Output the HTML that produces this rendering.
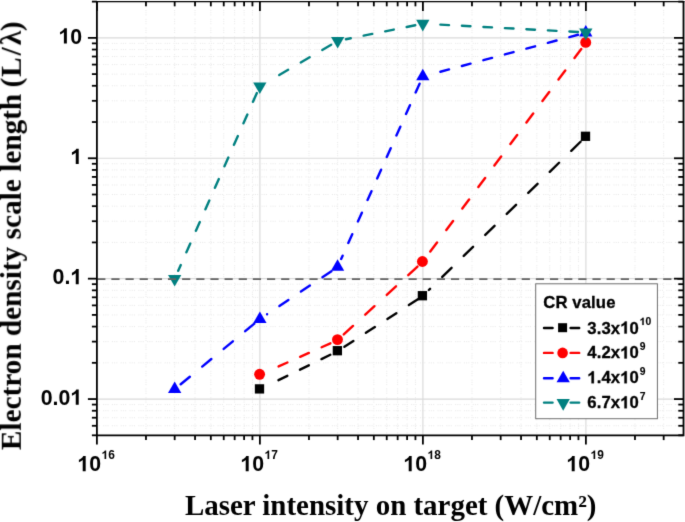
<!DOCTYPE html>
<html><head><meta charset="utf-8"><title>chart</title>
<style>
html,body{margin:0;padding:0;background:#fff;}
body{width:685px;height:522px;overflow:hidden;font-family:"Liberation Sans",sans-serif;}
svg{display:block;will-change:transform;}
</style></head><body>
<svg width="685" height="522" viewBox="0 0 685 522">
<rect x="0" y="0" width="685" height="522" fill="#ffffff"/>
<defs><filter id="soft" x="0" y="0" width="100%" height="100%" filterUnits="userSpaceOnUse" color-interpolation-filters="sRGB"><feConvolveMatrix order="3" kernelMatrix="0.01134 0.08382 0.01134 0.08382 0.61935 0.08382 0.01134 0.08382 0.01134" edgeMode="duplicate" preserveAlpha="false"/></filter></defs>
<g filter="url(#soft)">
<rect x="-5" y="-5" width="695" height="532" fill="#ffffff"/>
<g stroke="#cccccc" stroke-width="1" stroke-dasharray="1.1 1.1 1.1 1.1 1.1 3.3" opacity="0.42" fill="none">
<line x1="145.97" y1="1.16" x2="145.97" y2="434.40"/>
<line x1="174.67" y1="1.16" x2="174.67" y2="434.40"/>
<line x1="195.04" y1="1.16" x2="195.04" y2="434.40"/>
<line x1="210.83" y1="1.16" x2="210.83" y2="434.40"/>
<line x1="223.74" y1="1.16" x2="223.74" y2="434.40"/>
<line x1="234.65" y1="1.16" x2="234.65" y2="434.40"/>
<line x1="244.10" y1="1.16" x2="244.10" y2="434.40"/>
<line x1="252.44" y1="1.16" x2="252.44" y2="434.40"/>
<line x1="308.97" y1="1.16" x2="308.97" y2="434.40"/>
<line x1="337.67" y1="1.16" x2="337.67" y2="434.40"/>
<line x1="358.04" y1="1.16" x2="358.04" y2="434.40"/>
<line x1="373.83" y1="1.16" x2="373.83" y2="434.40"/>
<line x1="386.74" y1="1.16" x2="386.74" y2="434.40"/>
<line x1="397.65" y1="1.16" x2="397.65" y2="434.40"/>
<line x1="407.10" y1="1.16" x2="407.10" y2="434.40"/>
<line x1="415.44" y1="1.16" x2="415.44" y2="434.40"/>
<line x1="471.97" y1="1.16" x2="471.97" y2="434.40"/>
<line x1="500.67" y1="1.16" x2="500.67" y2="434.40"/>
<line x1="521.04" y1="1.16" x2="521.04" y2="434.40"/>
<line x1="536.83" y1="1.16" x2="536.83" y2="434.40"/>
<line x1="549.74" y1="1.16" x2="549.74" y2="434.40"/>
<line x1="560.65" y1="1.16" x2="560.65" y2="434.40"/>
<line x1="570.10" y1="1.16" x2="570.10" y2="434.40"/>
<line x1="578.44" y1="1.16" x2="578.44" y2="434.40"/>
<line x1="634.97" y1="1.16" x2="634.97" y2="434.40"/>
<line x1="663.67" y1="1.16" x2="663.67" y2="434.40"/>
<line x1="94.3" y1="425.78" x2="682.50" y2="425.78"/>
<line x1="94.3" y1="417.72" x2="682.50" y2="417.72"/>
<line x1="94.3" y1="410.74" x2="682.50" y2="410.74"/>
<line x1="94.3" y1="404.58" x2="682.50" y2="404.58"/>
<line x1="94.3" y1="362.83" x2="682.50" y2="362.83"/>
<line x1="94.3" y1="341.62" x2="682.50" y2="341.62"/>
<line x1="94.3" y1="326.58" x2="682.50" y2="326.58"/>
<line x1="94.3" y1="314.91" x2="682.50" y2="314.91"/>
<line x1="94.3" y1="305.38" x2="682.50" y2="305.38"/>
<line x1="94.3" y1="297.32" x2="682.50" y2="297.32"/>
<line x1="94.3" y1="290.34" x2="682.50" y2="290.34"/>
<line x1="94.3" y1="284.18" x2="682.50" y2="284.18"/>
<line x1="94.3" y1="242.43" x2="682.50" y2="242.43"/>
<line x1="94.3" y1="221.22" x2="682.50" y2="221.22"/>
<line x1="94.3" y1="206.18" x2="682.50" y2="206.18"/>
<line x1="94.3" y1="194.51" x2="682.50" y2="194.51"/>
<line x1="94.3" y1="184.98" x2="682.50" y2="184.98"/>
<line x1="94.3" y1="176.92" x2="682.50" y2="176.92"/>
<line x1="94.3" y1="169.94" x2="682.50" y2="169.94"/>
<line x1="94.3" y1="163.78" x2="682.50" y2="163.78"/>
<line x1="94.3" y1="122.03" x2="682.50" y2="122.03"/>
<line x1="94.3" y1="100.82" x2="682.50" y2="100.82"/>
<line x1="94.3" y1="85.78" x2="682.50" y2="85.78"/>
<line x1="94.3" y1="74.11" x2="682.50" y2="74.11"/>
<line x1="94.3" y1="64.58" x2="682.50" y2="64.58"/>
<line x1="94.3" y1="56.52" x2="682.50" y2="56.52"/>
<line x1="94.3" y1="49.54" x2="682.50" y2="49.54"/>
<line x1="94.3" y1="43.38" x2="682.50" y2="43.38"/>
</g>
<g stroke="#dadada" stroke-width="1.15" fill="none">
<line x1="259.90" y1="1.50" x2="259.90" y2="435.40"/>
<line x1="422.90" y1="1.50" x2="422.90" y2="435.40"/>
<line x1="585.90" y1="1.50" x2="585.90" y2="435.40"/>
<line x1="96.90" y1="399.07" x2="683.50" y2="399.07"/>
<line x1="96.90" y1="278.67" x2="683.50" y2="278.67"/>
<line x1="96.90" y1="158.27" x2="683.50" y2="158.27"/>
<line x1="96.90" y1="37.87" x2="683.50" y2="37.87"/>
</g>
<path d="M278.48 380.19L287.32 375.85M299.98 369.64L308.82 365.30M321.48 359.10L330.32 354.76" stroke="#000000" stroke-width="2.4" stroke-linecap="round" fill="none"/>
<path d="M344.38 346.77L353.36 340.96M365.88 332.86L374.86 327.05M387.38 318.95L396.36 313.14M408.88 305.05L417.86 299.23" stroke="#000000" stroke-width="2.4" stroke-linecap="round" fill="none"/>
<path d="M428.86 289.99L430.04 288.83M442.26 276.89L451.54 267.82M463.76 255.88L473.04 246.81M485.26 234.87L494.54 225.79M506.76 213.86L516.04 204.78M528.26 192.84L537.54 183.77M549.76 171.83L559.04 162.76M571.26 150.82L580.54 141.75" stroke="#000000" stroke-width="2.4" stroke-linecap="round" fill="none"/>
<rect x="254.85" y="384.25" width="9.3" height="9.3" fill="#000000"/>
<rect x="332.72" y="346.05" width="9.3" height="9.3" fill="#000000"/>
<rect x="417.75" y="291.05" width="9.3" height="9.3" fill="#000000"/>
<rect x="580.85" y="131.65" width="9.3" height="9.3" fill="#000000"/>
<path d="M278.60 366.44L287.40 362.51M300.10 356.85L308.90 352.93M321.60 347.27L330.40 343.35" stroke="#ff0000" stroke-width="2.4" stroke-linecap="round" fill="none"/>
<path d="M343.75 334.42L352.99 325.93M365.25 314.65L374.49 306.16M386.75 294.88L395.99 286.39M408.25 275.11L417.49 266.62" stroke="#ff0000" stroke-width="2.4" stroke-linecap="round" fill="none"/>
<path d="M430.27 251.54L437.04 242.46M446.30 230.04L453.06 220.96M462.32 208.54L469.09 199.46M478.35 187.04L485.11 177.96M494.37 165.54L501.13 156.46M510.39 144.04L517.16 134.96M526.42 122.54L533.18 113.46M542.44 101.04L549.21 91.96M558.47 79.54L565.23 70.46M574.49 58.04L581.26 48.96" stroke="#ff0000" stroke-width="2.4" stroke-linecap="round" fill="none"/>
<circle cx="259.60" cy="374.30" r="5.45" fill="#ff0000"/>
<circle cx="337.47" cy="339.60" r="5.45" fill="#ff0000"/>
<circle cx="422.40" cy="261.50" r="5.45" fill="#ff0000"/>
<circle cx="585.70" cy="42.40" r="5.45" fill="#ff0000"/>
<path d="M180.70 384.24L189.84 376.72M202.20 366.56L211.34 359.04M223.70 348.88L232.84 341.35M245.20 331.19L254.34 323.67" stroke="#0000ff" stroke-width="2.4" stroke-linecap="round" fill="none"/>
<path d="M279.40 306.02L288.40 299.98M300.90 291.60L309.90 285.56M322.40 277.18L331.40 271.14M267.10 314.27L267.10 314.27" stroke="#0000ff" stroke-width="2.4" stroke-linecap="round" fill="none"/>
<path d="M341.15 259.00L342.63 255.70M348.31 243.00L352.25 234.20M357.93 221.50L361.87 212.70M367.54 200.00L371.49 191.20M377.16 178.50L381.10 169.70M386.78 157.00L390.72 148.20M396.40 135.50L400.34 126.70M406.02 114.00L409.96 105.20M415.64 92.50L419.58 83.70" stroke="#0000ff" stroke-width="2.4" stroke-linecap="round" fill="none"/>
<path d="M440.36 71.78L449.04 69.44M461.86 65.99L470.54 63.66M483.36 60.21L492.04 57.87M504.86 54.42L513.54 52.09M526.36 48.64L535.04 46.31M547.86 42.86L556.54 40.52M569.36 37.07L578.04 34.74" stroke="#0000ff" stroke-width="2.4" stroke-linecap="round" fill="none"/>
<path d="M174.67 381.52L181.32 393.04L168.02 393.04Z" fill="#0000ff"/>
<path d="M259.90 311.42L266.55 322.94L253.25 322.94Z" fill="#0000ff"/>
<path d="M337.57 259.32L344.22 270.84L330.92 270.84Z" fill="#0000ff"/>
<path d="M422.80 68.82L429.45 80.34L416.15 80.34Z" fill="#0000ff"/>
<path d="M585.80 24.97L592.45 36.49L579.15 36.49Z" fill="#0000ff"/>
<path d="M178.21 270.80L180.78 265.00M186.39 252.30L190.29 243.50M195.91 230.80L199.80 222.00M205.42 209.30L209.32 200.50M214.93 187.80L218.83 179.00M224.45 166.30L228.34 157.50M233.96 144.80L237.86 136.00M243.47 123.30L247.37 114.50M252.98 101.80L256.88 93.00" stroke="#008080" stroke-width="2.4" stroke-linecap="round" fill="none"/>
<path d="M279.24 75.04L288.16 69.83M300.74 62.48L309.66 57.26M322.24 49.92L331.16 44.70" stroke="#008080" stroke-width="2.4" stroke-linecap="round" fill="none"/>
<path d="M345.95 39.23L350.79 38.25M363.65 35.65L372.29 33.90M385.15 31.31L393.79 29.56M406.65 26.96L415.29 25.22" stroke="#008080" stroke-width="2.4" stroke-linecap="round" fill="none"/>
<path d="M440.40 24.64L449.00 25.11M461.90 25.80L470.50 26.26M483.40 26.95L492.00 27.41M504.90 28.11L513.50 28.57M526.40 29.26L535.00 29.72M547.90 30.42L556.50 30.88M569.40 31.57L578.00 32.03" stroke="#008080" stroke-width="2.4" stroke-linecap="round" fill="none"/>
<path d="M174.67 286.48L181.32 274.96L168.02 274.96Z" fill="#008080"/>
<path d="M259.80 94.08L266.45 82.56L253.15 82.56Z" fill="#008080"/>
<path d="M337.67 48.58L344.32 37.06L331.02 37.06Z" fill="#008080"/>
<path d="M422.80 31.38L429.45 19.86L416.15 19.86Z" fill="#008080"/>
<path d="M585.80 40.13L592.45 28.61L579.15 28.61Z" fill="#008080"/>
<line x1="97.20" y1="279.1" x2="683.50" y2="279.1" stroke="#636363" stroke-width="1.8" stroke-dasharray="8.2 5.95"/>
<rect x="535.7" y="283.8" width="121.70" height="134.90" fill="#ffffff" stroke="#6e6e6e" stroke-width="1"/>
<text x="543.30" y="308.20" font-family="Liberation Sans, sans-serif" font-weight="bold" font-size="16.7" letter-spacing="0.1" stroke="#000" stroke-width="0.3" stroke-linejoin="round">CR value</text>
<path d="M544.0 328.0L552.6 328.0M570.6 328.0L579.2 328.0" stroke="#000000" stroke-width="2.4" stroke-linecap="round" fill="none"/>
<rect x="558.10" y="323.20" width="9.0" height="9.0" fill="#000000"/>
<text x="587.30" y="333.50" font-family="Liberation Sans, sans-serif" font-weight="bold" font-size="16.7" letter-spacing="0.1" stroke="#000" stroke-width="0.3" stroke-linejoin="round">3.3x</text>
<path d="M393 0L254 0L254 -524Q178 -453 75 -419L75 -545Q129 -563 193 -612Q256 -661 280 -716L393 -716Z" transform="translate(620.20 333.50) scale(0.01670)" fill="#000" stroke="#000" stroke-width="18.0"/>
<text x="629.58" y="333.50" font-family="Liberation Sans, sans-serif" font-weight="bold" font-size="16.7" letter-spacing="0.1" stroke="#000" stroke-width="0.3" stroke-linejoin="round">0</text>
<path d="M393 0L254 0L254 -524Q178 -453 75 -419L75 -545Q129 -563 193 -612Q256 -661 280 -716L393 -716Z" transform="translate(639.67 325.00) scale(0.01030)" fill="#000" stroke="#000" stroke-width="14.6"/>
<text x="645.40" y="325.00" font-family="Liberation Sans, sans-serif" font-weight="bold" font-size="10.3" stroke="#000" stroke-width="0.15" stroke-linejoin="round">0</text>
<path d="M544.0 352.9L552.6 352.9M570.6 352.9L579.2 352.9" stroke="#ff0000" stroke-width="2.4" stroke-linecap="round" fill="none"/>
<circle cx="562.60" cy="352.90" r="5.3" fill="#ff0000"/>
<text x="587.30" y="358.40" font-family="Liberation Sans, sans-serif" font-weight="bold" font-size="16.7" letter-spacing="0.1" stroke="#000" stroke-width="0.3" stroke-linejoin="round">4.2x</text>
<path d="M393 0L254 0L254 -524Q178 -453 75 -419L75 -545Q129 -563 193 -612Q256 -661 280 -716L393 -716Z" transform="translate(620.20 358.40) scale(0.01670)" fill="#000" stroke="#000" stroke-width="18.0"/>
<text x="629.58" y="358.40" font-family="Liberation Sans, sans-serif" font-weight="bold" font-size="16.7" letter-spacing="0.1" stroke="#000" stroke-width="0.3" stroke-linejoin="round">0</text>
<text x="639.67" y="349.90" font-family="Liberation Sans, sans-serif" font-weight="bold" font-size="10.3" stroke="#000" stroke-width="0.15" stroke-linejoin="round">9</text>
<path d="M544.0 378.3L552.6 378.3M570.6 378.3L579.2 378.3" stroke="#0000ff" stroke-width="2.4" stroke-linecap="round" fill="none"/>
<path d="M563.20 370.67L569.85 382.19L556.55 382.19Z" fill="#0000ff"/>
<path d="M393 0L254 0L254 -524Q178 -453 75 -419L75 -545Q129 -563 193 -612Q256 -661 280 -716L393 -716Z" transform="translate(587.30 383.30) scale(0.01670)" fill="#000" stroke="#000" stroke-width="18.0"/>
<text x="596.69" y="383.30" font-family="Liberation Sans, sans-serif" font-weight="bold" font-size="16.7" letter-spacing="0.1" stroke="#000" stroke-width="0.3" stroke-linejoin="round">.4x</text>
<path d="M393 0L254 0L254 -524Q178 -453 75 -419L75 -545Q129 -563 193 -612Q256 -661 280 -716L393 -716Z" transform="translate(620.20 383.30) scale(0.01670)" fill="#000" stroke="#000" stroke-width="18.0"/>
<text x="629.58" y="383.30" font-family="Liberation Sans, sans-serif" font-weight="bold" font-size="16.7" letter-spacing="0.1" stroke="#000" stroke-width="0.3" stroke-linejoin="round">0</text>
<text x="639.67" y="374.80" font-family="Liberation Sans, sans-serif" font-weight="bold" font-size="10.3" stroke="#000" stroke-width="0.15" stroke-linejoin="round">9</text>
<path d="M544.0 402.6L552.6 402.6M570.6 402.6L579.2 402.6" stroke="#008080" stroke-width="2.4" stroke-linecap="round" fill="none"/>
<path d="M563.20 410.63L569.85 399.11L556.55 399.11Z" fill="#008080"/>
<text x="587.30" y="408.30" font-family="Liberation Sans, sans-serif" font-weight="bold" font-size="16.7" letter-spacing="0.1" stroke="#000" stroke-width="0.3" stroke-linejoin="round">6.7x</text>
<path d="M393 0L254 0L254 -524Q178 -453 75 -419L75 -545Q129 -563 193 -612Q256 -661 280 -716L393 -716Z" transform="translate(620.20 408.30) scale(0.01670)" fill="#000" stroke="#000" stroke-width="18.0"/>
<text x="629.58" y="408.30" font-family="Liberation Sans, sans-serif" font-weight="bold" font-size="16.7" letter-spacing="0.1" stroke="#000" stroke-width="0.3" stroke-linejoin="round">0</text>
<text x="639.67" y="399.80" font-family="Liberation Sans, sans-serif" font-weight="bold" font-size="10.3" stroke="#000" stroke-width="0.15" stroke-linejoin="round">7</text>
<g stroke="#000000" stroke-width="1.8" fill="none" stroke-linecap="butt">
<path d="M96.9 0.90V436.30M683.5 0.90V436.30M96.00 435.4H684.40"/>
<path d="M96.00 1.55H684.40" stroke-width="1.3"/>
<line x1="91.90" y1="435.31" x2="96.90" y2="435.31"/>
<line x1="678.30" y1="435.31" x2="683.50" y2="435.31"/>
<line x1="91.90" y1="425.78" x2="96.90" y2="425.78"/>
<line x1="678.30" y1="425.78" x2="683.50" y2="425.78"/>
<line x1="91.90" y1="417.72" x2="96.90" y2="417.72"/>
<line x1="678.30" y1="417.72" x2="683.50" y2="417.72"/>
<line x1="91.90" y1="410.74" x2="96.90" y2="410.74"/>
<line x1="678.30" y1="410.74" x2="683.50" y2="410.74"/>
<line x1="91.90" y1="404.58" x2="96.90" y2="404.58"/>
<line x1="678.30" y1="404.58" x2="683.50" y2="404.58"/>
<line x1="87.90" y1="399.07" x2="96.90" y2="399.07"/>
<line x1="674.00" y1="399.07" x2="683.50" y2="399.07"/>
<line x1="91.90" y1="362.83" x2="96.90" y2="362.83"/>
<line x1="678.30" y1="362.83" x2="683.50" y2="362.83"/>
<line x1="91.90" y1="341.62" x2="96.90" y2="341.62"/>
<line x1="678.30" y1="341.62" x2="683.50" y2="341.62"/>
<line x1="91.90" y1="326.58" x2="96.90" y2="326.58"/>
<line x1="678.30" y1="326.58" x2="683.50" y2="326.58"/>
<line x1="91.90" y1="314.91" x2="96.90" y2="314.91"/>
<line x1="678.30" y1="314.91" x2="683.50" y2="314.91"/>
<line x1="91.90" y1="305.38" x2="96.90" y2="305.38"/>
<line x1="678.30" y1="305.38" x2="683.50" y2="305.38"/>
<line x1="91.90" y1="297.32" x2="96.90" y2="297.32"/>
<line x1="678.30" y1="297.32" x2="683.50" y2="297.32"/>
<line x1="91.90" y1="290.34" x2="96.90" y2="290.34"/>
<line x1="678.30" y1="290.34" x2="683.50" y2="290.34"/>
<line x1="91.90" y1="284.18" x2="96.90" y2="284.18"/>
<line x1="678.30" y1="284.18" x2="683.50" y2="284.18"/>
<line x1="87.90" y1="278.67" x2="96.90" y2="278.67"/>
<line x1="674.00" y1="278.67" x2="683.50" y2="278.67"/>
<line x1="91.90" y1="242.43" x2="96.90" y2="242.43"/>
<line x1="678.30" y1="242.43" x2="683.50" y2="242.43"/>
<line x1="91.90" y1="221.22" x2="96.90" y2="221.22"/>
<line x1="678.30" y1="221.22" x2="683.50" y2="221.22"/>
<line x1="91.90" y1="206.18" x2="96.90" y2="206.18"/>
<line x1="678.30" y1="206.18" x2="683.50" y2="206.18"/>
<line x1="91.90" y1="194.51" x2="96.90" y2="194.51"/>
<line x1="678.30" y1="194.51" x2="683.50" y2="194.51"/>
<line x1="91.90" y1="184.98" x2="96.90" y2="184.98"/>
<line x1="678.30" y1="184.98" x2="683.50" y2="184.98"/>
<line x1="91.90" y1="176.92" x2="96.90" y2="176.92"/>
<line x1="678.30" y1="176.92" x2="683.50" y2="176.92"/>
<line x1="91.90" y1="169.94" x2="96.90" y2="169.94"/>
<line x1="678.30" y1="169.94" x2="683.50" y2="169.94"/>
<line x1="91.90" y1="163.78" x2="96.90" y2="163.78"/>
<line x1="678.30" y1="163.78" x2="683.50" y2="163.78"/>
<line x1="87.90" y1="158.27" x2="96.90" y2="158.27"/>
<line x1="674.00" y1="158.27" x2="683.50" y2="158.27"/>
<line x1="91.90" y1="122.03" x2="96.90" y2="122.03"/>
<line x1="678.30" y1="122.03" x2="683.50" y2="122.03"/>
<line x1="91.90" y1="100.82" x2="96.90" y2="100.82"/>
<line x1="678.30" y1="100.82" x2="683.50" y2="100.82"/>
<line x1="91.90" y1="85.78" x2="96.90" y2="85.78"/>
<line x1="678.30" y1="85.78" x2="683.50" y2="85.78"/>
<line x1="91.90" y1="74.11" x2="96.90" y2="74.11"/>
<line x1="678.30" y1="74.11" x2="683.50" y2="74.11"/>
<line x1="91.90" y1="64.58" x2="96.90" y2="64.58"/>
<line x1="678.30" y1="64.58" x2="683.50" y2="64.58"/>
<line x1="91.90" y1="56.52" x2="96.90" y2="56.52"/>
<line x1="678.30" y1="56.52" x2="683.50" y2="56.52"/>
<line x1="91.90" y1="49.54" x2="96.90" y2="49.54"/>
<line x1="678.30" y1="49.54" x2="683.50" y2="49.54"/>
<line x1="91.90" y1="43.38" x2="96.90" y2="43.38"/>
<line x1="678.30" y1="43.38" x2="683.50" y2="43.38"/>
<line x1="87.90" y1="37.87" x2="96.90" y2="37.87"/>
<line x1="674.00" y1="37.87" x2="683.50" y2="37.87"/>
<line x1="91.90" y1="1.63" x2="96.90" y2="1.63"/>
<line x1="678.30" y1="1.63" x2="683.50" y2="1.63"/>
<line x1="96.90" y1="435.40" x2="96.90" y2="444.50"/>
<line x1="96.90" y1="1.50" x2="96.90" y2="11.10"/>
<line x1="145.97" y1="435.40" x2="145.97" y2="440.10"/>
<line x1="145.97" y1="1.50" x2="145.97" y2="6.30"/>
<line x1="174.67" y1="435.40" x2="174.67" y2="440.10"/>
<line x1="174.67" y1="1.50" x2="174.67" y2="6.30"/>
<line x1="195.04" y1="435.40" x2="195.04" y2="440.10"/>
<line x1="195.04" y1="1.50" x2="195.04" y2="6.30"/>
<line x1="210.83" y1="435.40" x2="210.83" y2="440.10"/>
<line x1="210.83" y1="1.50" x2="210.83" y2="6.30"/>
<line x1="223.74" y1="435.40" x2="223.74" y2="440.10"/>
<line x1="223.74" y1="1.50" x2="223.74" y2="6.30"/>
<line x1="234.65" y1="435.40" x2="234.65" y2="440.10"/>
<line x1="234.65" y1="1.50" x2="234.65" y2="6.30"/>
<line x1="244.10" y1="435.40" x2="244.10" y2="440.10"/>
<line x1="244.10" y1="1.50" x2="244.10" y2="6.30"/>
<line x1="252.44" y1="435.40" x2="252.44" y2="440.10"/>
<line x1="252.44" y1="1.50" x2="252.44" y2="6.30"/>
<line x1="259.90" y1="435.40" x2="259.90" y2="444.50"/>
<line x1="259.90" y1="1.50" x2="259.90" y2="11.10"/>
<line x1="308.97" y1="435.40" x2="308.97" y2="440.10"/>
<line x1="308.97" y1="1.50" x2="308.97" y2="6.30"/>
<line x1="337.67" y1="435.40" x2="337.67" y2="440.10"/>
<line x1="337.67" y1="1.50" x2="337.67" y2="6.30"/>
<line x1="358.04" y1="435.40" x2="358.04" y2="440.10"/>
<line x1="358.04" y1="1.50" x2="358.04" y2="6.30"/>
<line x1="373.83" y1="435.40" x2="373.83" y2="440.10"/>
<line x1="373.83" y1="1.50" x2="373.83" y2="6.30"/>
<line x1="386.74" y1="435.40" x2="386.74" y2="440.10"/>
<line x1="386.74" y1="1.50" x2="386.74" y2="6.30"/>
<line x1="397.65" y1="435.40" x2="397.65" y2="440.10"/>
<line x1="397.65" y1="1.50" x2="397.65" y2="6.30"/>
<line x1="407.10" y1="435.40" x2="407.10" y2="440.10"/>
<line x1="407.10" y1="1.50" x2="407.10" y2="6.30"/>
<line x1="415.44" y1="435.40" x2="415.44" y2="440.10"/>
<line x1="415.44" y1="1.50" x2="415.44" y2="6.30"/>
<line x1="422.90" y1="435.40" x2="422.90" y2="444.50"/>
<line x1="422.90" y1="1.50" x2="422.90" y2="11.10"/>
<line x1="471.97" y1="435.40" x2="471.97" y2="440.10"/>
<line x1="471.97" y1="1.50" x2="471.97" y2="6.30"/>
<line x1="500.67" y1="435.40" x2="500.67" y2="440.10"/>
<line x1="500.67" y1="1.50" x2="500.67" y2="6.30"/>
<line x1="521.04" y1="435.40" x2="521.04" y2="440.10"/>
<line x1="521.04" y1="1.50" x2="521.04" y2="6.30"/>
<line x1="536.83" y1="435.40" x2="536.83" y2="440.10"/>
<line x1="536.83" y1="1.50" x2="536.83" y2="6.30"/>
<line x1="549.74" y1="435.40" x2="549.74" y2="440.10"/>
<line x1="549.74" y1="1.50" x2="549.74" y2="6.30"/>
<line x1="560.65" y1="435.40" x2="560.65" y2="440.10"/>
<line x1="560.65" y1="1.50" x2="560.65" y2="6.30"/>
<line x1="570.10" y1="435.40" x2="570.10" y2="440.10"/>
<line x1="570.10" y1="1.50" x2="570.10" y2="6.30"/>
<line x1="578.44" y1="435.40" x2="578.44" y2="440.10"/>
<line x1="578.44" y1="1.50" x2="578.44" y2="6.30"/>
<line x1="585.90" y1="435.40" x2="585.90" y2="444.50"/>
<line x1="585.90" y1="1.50" x2="585.90" y2="11.10"/>
<line x1="634.97" y1="435.40" x2="634.97" y2="440.10"/>
<line x1="634.97" y1="1.50" x2="634.97" y2="6.30"/>
<line x1="663.67" y1="435.40" x2="663.67" y2="440.10"/>
<line x1="663.67" y1="1.50" x2="663.67" y2="6.30"/>
</g>
<path d="M393 0L254 0L254 -524Q178 -453 75 -419L75 -545Q129 -563 193 -612Q256 -661 280 -716L393 -716Z" transform="translate(58.48 43.52) scale(0.02133)" fill="#000"/>
<text x="70.34" y="43.52" font-family="Liberation Sans, sans-serif" font-weight="bold" font-size="21.33">0</text>
<path d="M393 0L254 0L254 -524Q178 -453 75 -419L75 -545Q129 -563 193 -612Q256 -661 280 -716L393 -716Z" transform="translate(70.34 163.92) scale(0.02133)" fill="#000"/>
<text x="52.55" y="284.32" font-family="Liberation Sans, sans-serif" font-weight="bold" font-size="21.33">0.</text>
<path d="M393 0L254 0L254 -524Q178 -453 75 -419L75 -545Q129 -563 193 -612Q256 -661 280 -716L393 -716Z" transform="translate(70.34 284.32) scale(0.02133)" fill="#000"/>
<text x="40.69" y="404.72" font-family="Liberation Sans, sans-serif" font-weight="bold" font-size="21.33">0.0</text>
<path d="M393 0L254 0L254 -524Q178 -453 75 -419L75 -545Q129 -563 193 -612Q256 -661 280 -716L393 -716Z" transform="translate(70.34 404.72) scale(0.02133)" fill="#000"/>
<path d="M393 0L254 0L254 -524Q178 -453 75 -419L75 -545Q129 -563 193 -612Q256 -661 280 -716L393 -716Z" transform="translate(77.30 471.30) scale(0.02133)" fill="#000"/>
<text x="89.16" y="471.30" font-family="Liberation Sans, sans-serif" font-weight="bold" font-size="21.33">0</text>
<path d="M393 0L254 0L254 -524Q178 -453 75 -419L75 -545Q129 -563 193 -612Q256 -661 280 -716L393 -716Z" transform="translate(101.52 459.10) scale(0.01190)" fill="#000"/>
<text x="108.14" y="459.10" font-family="Liberation Sans, sans-serif" font-weight="bold" font-size="11.9">6</text>
<path d="M393 0L254 0L254 -524Q178 -453 75 -419L75 -545Q129 -563 193 -612Q256 -661 280 -716L393 -716Z" transform="translate(240.30 471.30) scale(0.02133)" fill="#000"/>
<text x="252.16" y="471.30" font-family="Liberation Sans, sans-serif" font-weight="bold" font-size="21.33">0</text>
<path d="M393 0L254 0L254 -524Q178 -453 75 -419L75 -545Q129 -563 193 -612Q256 -661 280 -716L393 -716Z" transform="translate(264.52 459.10) scale(0.01190)" fill="#000"/>
<text x="271.14" y="459.10" font-family="Liberation Sans, sans-serif" font-weight="bold" font-size="11.9">7</text>
<path d="M393 0L254 0L254 -524Q178 -453 75 -419L75 -545Q129 -563 193 -612Q256 -661 280 -716L393 -716Z" transform="translate(403.30 471.30) scale(0.02133)" fill="#000"/>
<text x="415.16" y="471.30" font-family="Liberation Sans, sans-serif" font-weight="bold" font-size="21.33">0</text>
<path d="M393 0L254 0L254 -524Q178 -453 75 -419L75 -545Q129 -563 193 -612Q256 -661 280 -716L393 -716Z" transform="translate(427.52 459.10) scale(0.01190)" fill="#000"/>
<text x="434.14" y="459.10" font-family="Liberation Sans, sans-serif" font-weight="bold" font-size="11.9">8</text>
<path d="M393 0L254 0L254 -524Q178 -453 75 -419L75 -545Q129 -563 193 -612Q256 -661 280 -716L393 -716Z" transform="translate(566.30 471.30) scale(0.02133)" fill="#000"/>
<text x="578.16" y="471.30" font-family="Liberation Sans, sans-serif" font-weight="bold" font-size="21.33">0</text>
<path d="M393 0L254 0L254 -524Q178 -453 75 -419L75 -545Q129 -563 193 -612Q256 -661 280 -716L393 -716Z" transform="translate(590.52 459.10) scale(0.01190)" fill="#000"/>
<text x="597.14" y="459.10" font-family="Liberation Sans, sans-serif" font-weight="bold" font-size="11.9">9</text>
<text x="184.9" y="515.2" font-family="Liberation Serif, serif" font-weight="bold" font-size="28.95">Laser intensity on target (W/cm²)</text>
<text transform="translate(20.8 450.2) rotate(-90)" font-family="Liberation Serif, serif" font-weight="bold" font-size="29.27"><tspan x="0">Electron density scale length</tspan><tspan x="362.7 373.2 394.65 405.1 419.0">(L/λ)</tspan></text>
</g>
</svg>
</body></html>
